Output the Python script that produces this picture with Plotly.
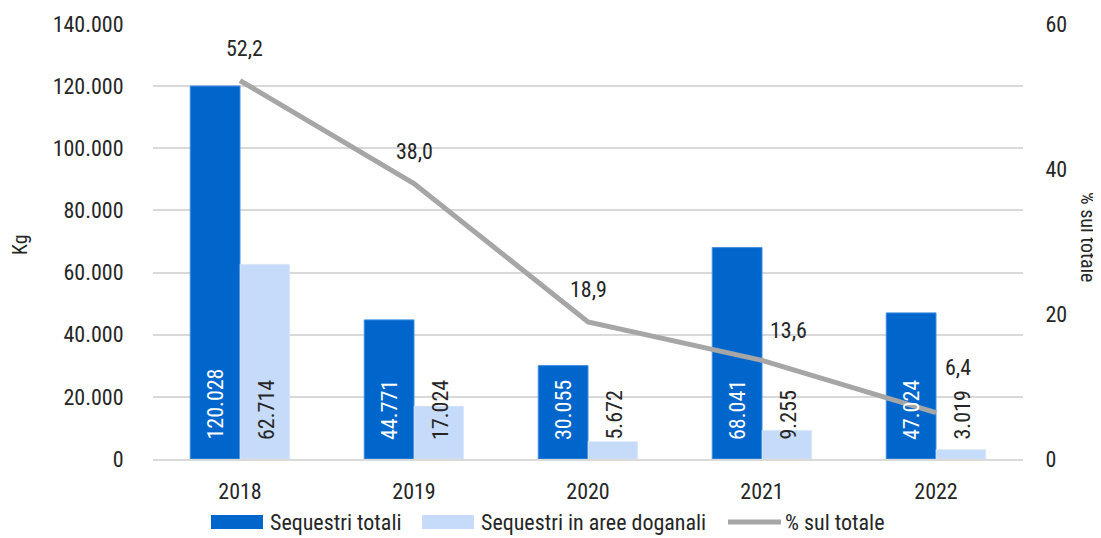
import plotly.graph_objects as go

years = ["2018", "2019", "2020", "2021", "2022"]
totali = [120028, 44771, 30055, 68041, 47024]
doganali = [62714, 17024, 5672, 9255, 3019]
perc = [52.2, 38.0, 18.9, 13.6, 6.4]
left_ticks = [0, 20000, 40000, 60000, 80000, 100000, 120000, 140000]
right_ticks = [0, 20, 40, 60]

FONT = "Liberation Sans Narrow, Arial Narrow, Roboto Condensed, Roboto, sans-serif"
DARK = "#0066CC"
LIGHT = "#C6DBF9"
GREY = "#A6A6A6"
TXT = "#262626"

def it_num(v):
    return f"{v:,}".replace(",", ".")

def it_dec(v):
    return f"{v:.1f}".replace(".", ",")

fig = go.Figure()
fig.add_trace(go.Bar(x=years, y=totali, name="Sequestri totali", marker_color=DARK,
                     marker_line=dict(color="#3F8EE0", width=1), showlegend=False))
fig.add_trace(go.Bar(x=years, y=doganali, name="Sequestri in aree doganali", marker_color=LIGHT,
                     showlegend=False))
fig.add_trace(go.Scatter(x=years, y=perc, yaxis="y2", mode="lines", name="% sul totale",
                         line=dict(color=GREY, width=5), showlegend=False))

ann = []
for i, y in enumerate(years):
    ann.append(dict(x=i, y=0, xref="x", yref="y", text=it_num(totali[i]), textangle=-90,
                    showarrow=False, xshift=-25, yshift=17, yanchor="bottom",
                    font=dict(family=FONT, size=22, color="white")))
    ann.append(dict(x=i, y=0, xref="x", yref="y", text=it_num(doganali[i]), textangle=-90,
                    showarrow=False, xshift=26, yshift=17, yanchor="bottom",
                    font=dict(family=FONT, size=22, color=TXT)))
# line labels
shifts = [(4, 32), (0, 32), (0, 32), (26, 30), (22, 45)]
for i, y in enumerate(years):
    ann.append(dict(x=i, y=perc[i], xref="x", yref="y2", text=it_dec(perc[i]),
                    showarrow=False, xshift=shifts[i][0], yshift=shifts[i][1],
                    font=dict(family=FONT, size=22, color=TXT)))

# axis titles
ann.append(dict(x=(20-153)/870, y=(459-245)/435, xref="paper", yref="paper", text="Kg",
                textangle=-90, xanchor="center", yanchor="middle",
                showarrow=False, font=dict(family=FONT, size=20, color=TXT)))
ann.append(dict(x=(1088-153)/870, y=(459-237)/435, xref="paper", yref="paper", text="% sul totale",
                textangle=90, xanchor="center", yanchor="middle",
                showarrow=False, font=dict(family=FONT, size=20, color=TXT)))

# custom legend
leg_y = (459-522)/435
shapes = [
    dict(type="rect", xref="paper", yref="paper", x0=(211-153)/870, x1=(263-153)/870,
         y0=(459-529)/435, y1=(459-515)/435, fillcolor=DARK, line=dict(width=0)),
    dict(type="rect", xref="paper", yref="paper", x0=(422-153)/870, x1=(474-153)/870,
         y0=(459-529)/435, y1=(459-515)/435, fillcolor=LIGHT, line=dict(width=0)),
    dict(type="line", xref="paper", yref="paper", x0=(728-153)/870, x1=(781-153)/870,
         y0=leg_y, y1=leg_y, line=dict(color=GREY, width=5)),
]
for xpx, t in [(268, "Sequestri totali"), (479, "Sequestri in aree doganali"), (783, "% sul totale")]:
    ann.append(dict(x=(xpx-153)/870, y=leg_y, xref="paper", yref="paper", text=t,
                    xanchor="left", yanchor="middle", showarrow=False,
                    font=dict(family=FONT, size=22, color=TXT)))

CLEAR = "rgba(0,0,0,0)"
fig.update_layout(
    width=1093, height=530,
    margin=dict(l=145, r=78, t=16, b=79, autoexpand=False),
    paper_bgcolor="white", plot_bgcolor="white",
    separators=",.",
    barmode="group", bargap=0.428, bargroupgap=0,
    font=dict(family=FONT, size=22, color=TXT),
    xaxis=dict(type="category", range=[-0.5, 4.5], showgrid=False, showline=True,
               linecolor="#D9D9D9", linewidth=2,
               ticks="outside", ticklen=12, tickcolor=CLEAR, tickfont=dict(size=22)),
    yaxis=dict(range=[0, 140000], tickvals=left_ticks, tickformat=",d",
               showgrid=True, gridcolor="#D9D9D9", gridwidth=2, zeroline=False,
               ticks="outside", ticklen=24, tickcolor=CLEAR, tickfont=dict(size=22)),
    yaxis2=dict(range=[0, 60], tickvals=right_ticks, overlaying="y", side="right",
                showgrid=False, zeroline=False, ticks="outside", ticklen=17, tickcolor=CLEAR,
                tickfont=dict(size=22)),
    annotations=ann, shapes=shapes,
)

fig.write_html("out.html")
